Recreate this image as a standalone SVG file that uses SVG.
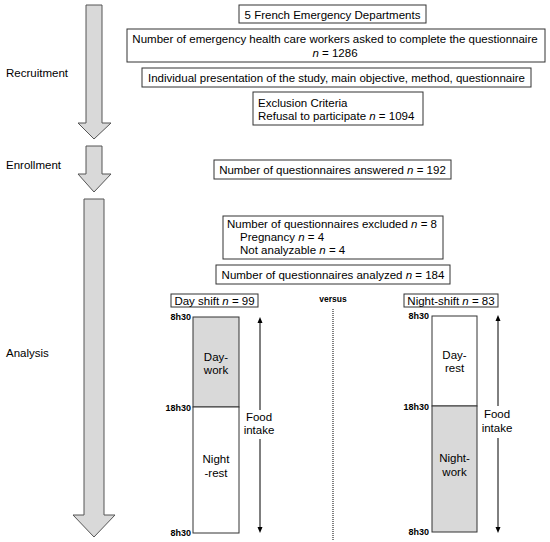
<svg xmlns="http://www.w3.org/2000/svg" width="550" height="542" viewBox="0 0 550 542">
<style>
text{font-family:"Liberation Sans",Arial,sans-serif;font-size:11.5px;fill:#000}
.box{fill:#fff;stroke:#333;stroke-width:1}
.big{fill:#d9d9d9;stroke:#555;stroke-width:1}
.col{stroke:#333;stroke-width:1}
.tm{font-size:9px;font-weight:bold;text-anchor:end}
.c{text-anchor:middle}
.i{font-style:italic}
.vs{font-size:8.5px;font-weight:bold;text-anchor:middle}
.fl{stroke:#000;stroke-width:1;fill:none}
</style>
<defs>
<marker id="ah" markerWidth="6" markerHeight="6" refX="3" refY="3" orient="auto" markerUnits="userSpaceOnUse">
<path d="M0,0.5 L6,3 L0,5.5 Z" fill="#000"/>
</marker>
</defs>
<rect width="550" height="542" fill="#fff"/>

<g id="phases">
<polygon class="big" points="86,5 102,5 102,123 111,123 94,139 78,123 86,123"/>
<polygon class="big" points="86,146 102,146 102,174 111,174 94,192 78,174 86,174"/>
<polygon class="big" points="84,199 104,199 104,515 115,515 94,537 73,515 84,515"/>
<text x="6" y="77">Recruitment</text>
<text x="6" y="169">Enrollment</text>
<text x="6" y="357">Analysis</text>
</g>

<g id="n1">
<rect class="box" x="239" y="5" width="187" height="18"/>
<text class="c" x="332.5" y="19">5 French Emergency Departments</text>
</g>
<g id="n2">
<rect class="box" x="127" y="29" width="418" height="33"/>
<text class="c" x="335" y="43">Number of emergency health care workers asked to complete the questionnaire</text>
<text class="c" x="335" y="57"><tspan class="i">n</tspan> = 1286</text>
</g>
<g id="n3">
<rect class="box" x="142" y="68" width="389" height="19"/>
<text class="c" x="336.5" y="82">Individual presentation of the study, main objective, method, questionnaire</text>
</g>
<g id="n4">
<rect class="box" x="253" y="92" width="170" height="33"/>
<text x="258" y="107">Exclusion Criteria</text>
<text x="258" y="120">Refusal to participate <tspan class="i">n</tspan> = 1094</text>
</g>
<g id="n5">
<rect class="box" x="214" y="160" width="237" height="19"/>
<text class="c" x="332.5" y="174">Number of questionnaires answered <tspan class="i">n</tspan> = 192</text>
</g>
<g id="n6">
<rect class="box" x="223" y="216" width="220" height="43"/>
<text x="227" y="228">Number of questionnaires excluded <tspan class="i">n</tspan> = 8</text>
<text x="240" y="241">Pregnancy <tspan class="i">n</tspan> = 4</text>
<text x="240" y="254">Not analyzable <tspan class="i">n</tspan> = 4</text>
</g>
<g id="n7">
<rect class="box" x="216" y="265" width="234" height="19"/>
<text class="c" x="333" y="279">Number of questionnaires analyzed <tspan class="i">n</tspan> = 184</text>
</g>
<g id="n8">
<rect class="box" x="171" y="294" width="87" height="13"/>
<text class="c" x="214.5" y="305">Day shift <tspan class="i">n</tspan> = 99</text>
</g>
<g id="n9">
<rect class="box" x="404" y="294" width="94" height="13"/>
<text class="c" x="451" y="305">Night-shift <tspan class="i">n</tspan> = 83</text>
</g>
<g id="versus">
<text class="vs" x="333" y="302">versus</text>
<line x1="333" y1="309" x2="333" y2="540" stroke="#000" stroke-width="1" stroke-dasharray="1,1"/>
</g>

<g id="day">
<rect x="193" y="317" width="46" height="90" fill="#d9d9d9" class="col"/>
<rect x="193" y="407" width="46" height="126" fill="#fff" class="col"/>
<text class="tm" x="191" y="320">8h30</text>
<text class="tm" x="191" y="411">18h30</text>
<text class="tm" x="191" y="536">8h30</text>
<text class="c" x="216" y="361">Day-</text>
<text class="c" x="216" y="374">work</text>
<text class="c" x="216" y="463">Night</text>
<text class="c" x="216" y="477">-rest</text>
<text class="c" x="259" y="421">Food</text>
<text class="c" x="259" y="434">intake</text>
</g>

<g id="night">
<rect x="432" y="316" width="45" height="90" fill="#fff" class="col"/>
<rect x="432" y="406" width="45" height="126" fill="#d9d9d9" class="col"/>
<text class="tm" x="429" y="319">8h30</text>
<text class="tm" x="429" y="410">18h30</text>
<text class="tm" x="429" y="535">8h30</text>
<text class="c" x="454.5" y="359">Day-</text>
<text class="c" x="454.5" y="372">rest</text>
<text class="c" x="454.5" y="462">Night-</text>
<text class="c" x="454.5" y="476">work</text>
<text class="c" x="497" y="418">Food</text>
<text class="c" x="497" y="432">intake</text>
</g>

<g id="connectors">
<line class="fl" x1="260" y1="410" x2="260" y2="320" marker-end="url(#ah)"/>
<line class="fl" x1="260" y1="439" x2="260" y2="530" marker-end="url(#ah)"/>
<line class="fl" x1="498" y1="406" x2="498" y2="318" marker-end="url(#ah)"/>
<line class="fl" x1="498" y1="438" x2="498" y2="530" marker-end="url(#ah)"/>
</g>
</svg>
